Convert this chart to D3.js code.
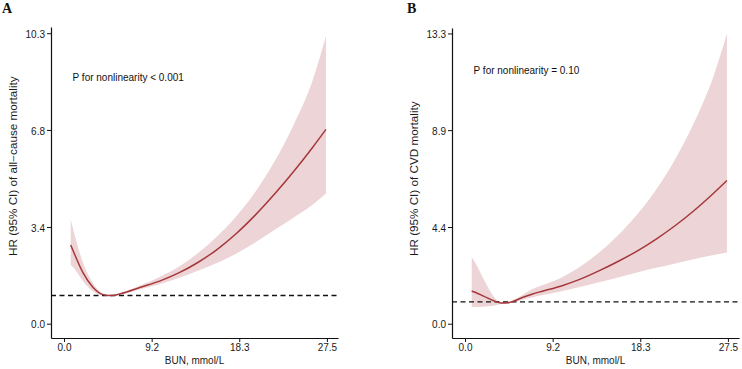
<!DOCTYPE html>
<html>
<head>
<meta charset="utf-8">
<script src="https://cdn.jsdelivr.net/npm/d3@7"></script>
<style>
  html, body { margin: 0; padding: 0; background: #fff; }
  svg { display: block; font-family: "Liberation Sans", Arial, sans-serif; }
</style>
</head>
<body>
<svg id="chart" width="742" height="369"></svg>
<script>
// ---- data ----
const bunA   = [0.7, 1, 2, 3, 4, 4.7, 5, 6, 8, 10, 12, 14, 16, 18, 20, 22, 24, 26, 27.4];
const hrA    = [2.79, 2.55, 1.80, 1.30, 1.04, 1.00, 1.00, 1.07, 1.29, 1.51, 1.80, 2.17, 2.63, 3.19, 3.85, 4.59, 5.39, 6.25, 6.89];
const upperA = [3.70, 3.30, 2.15, 1.45, 1.08, 1.01, 1.01, 1.10, 1.36, 1.66, 2.02, 2.50, 3.09, 3.80, 4.67, 5.74, 7.04, 8.62, 10.20];
const lowerA = [2.08, 1.98, 1.50, 1.16, 1.00, 0.99, 0.99, 1.04, 1.22, 1.40, 1.62, 1.88, 2.15, 2.48, 2.88, 3.32, 3.76, 4.22, 4.62];

const bunB   = [0.7, 1, 2, 3, 3.8, 4.5, 5, 6, 7, 8, 10, 12, 14, 16, 18, 20, 22, 24, 26, 27.4];
const hrB    = [1.50, 1.45, 1.25, 1.05, 0.95, 0.96, 1.02, 1.20, 1.35, 1.48, 1.72, 2.03, 2.42, 2.85, 3.33, 3.88, 4.50, 5.20, 5.98, 6.56];
const upperB = [3.05, 2.85, 2.00, 1.25, 0.98, 0.98, 1.06, 1.32, 1.58, 1.75, 2.10, 2.60, 3.25, 4.05, 5.00, 6.15, 7.55, 9.25, 11.35, 13.30];
const lowerB = [0.75, 0.76, 0.78, 0.82, 0.90, 0.93, 0.97, 1.10, 1.20, 1.30, 1.48, 1.68, 1.90, 2.12, 2.35, 2.56, 2.76, 2.96, 3.15, 3.26];

const xTicks = [0, 9.17, 18.33, 27.5];
const xTickLabels = ["0.0", "9.2", "18.3", "27.5"];
const yTicksA = [0, 3.43, 6.87, 10.3];
const yTickLabelsA = ["0.0", "3.4", "6.8", "10.3"];
const yTicksB = [0, 4.43, 8.87, 13.3];
const yTickLabelsB = ["0.0", "4.4", "8.9", "13.3"];

const refHR = 1;

const STRETCH = 1.17; // the source picture is a bit taller than wide

const svg = d3.select("#chart");

function drawPanel(opt) {
  const g = svg.append("g").attr("transform", `translate(${opt.dx},0)`);

  const x = d3.scaleLinear().domain([-1.36, 28.66]).range([51, 338]);
  const y = d3.scaleLinear().domain(opt.yDomain).range([338, opt.yTop]);

  const rows = opt.bun.map((b, i) => ({ bun: b, hr: opt.hr[i], lo: opt.lower[i], hi: opt.upper[i] }));

  // confidence band
  g.append("path")
    .datum(rows)
    .attr("fill", "#edd5d7")
    .attr("d", d3.area()
      .curve(d3.curveMonotoneX)
      .x(d => x(d.bun))
      .y0(d => y(d.lo))
      .y1(d => y(d.hi)));

  // reference line HR = 1
  g.append("line")
    .attr("x1", x.range()[0]).attr("x2", x.range()[1])
    .attr("y1", y(refHR)).attr("y2", y(refHR))
    .attr("stroke", "#111")
    .attr("stroke-width", 1.3)
    .attr("stroke-dasharray", "5,3.5");

  // fitted curve
  g.append("path")
    .datum(rows)
    .attr("fill", "none")
    .attr("stroke", "#a5373a")
    .attr("stroke-width", 1.5)
    .attr("d", d3.line()
      .curve(d3.curveMonotoneX)
      .x(d => x(d.bun))
      .y(d => y(d.hr)));

  // axes
  const ax = g.append("g")
    .attr("transform", "translate(0,338)")
    .call(d3.axisBottom(x).tickValues(xTicks).tickFormat((d, i) => xTickLabels[i])
      .tickSize(4).tickSizeOuter(0));
  ax.selectAll("text")
    .attr("y", 11.5).attr("dy", 0)
    .attr("transform", `scale(1,${STRETCH})`);

  const ay = g.append("g")
    .attr("transform", "translate(51,0)")
    .call(d3.axisLeft(y).tickValues(opt.yTicks).tickFormat((d, i) => opt.yTickLabels[i])
      .tickSize(4).tickPadding(2).tickSizeOuter(0));
  ay.selectAll("text")
    .attr("dy", "0.36em")
    .attr("transform", `scale(1,${STRETCH})`);

  [ax, ay].forEach(a => {
    a.select(".domain").attr("stroke", "#111").attr("stroke-width", 1.2);
    a.selectAll(".tick line").attr("stroke", "#111").attr("stroke-width", 1);
    a.selectAll(".tick text").attr("fill", "#1a1a1a").style("font-size", "10px")
      .style("font-family", "'Liberation Sans', Arial, sans-serif");
  });

  // axis titles
  g.append("text")
    .attr("transform", `translate(194.5,364) scale(1,${STRETCH})`)
    .attr("text-anchor", "middle")
    .style("font-size", "10px")
    .attr("fill", "#1a1a1a")
    .text("BUN, mmol/L");

  g.append("text")
    .attr("transform", `translate(16.6,256) scale(1,${STRETCH}) rotate(-90)`)
    .attr("text-anchor", "start")
    .style("font-size", "10px")
    .attr("fill", "#1a1a1a")
    .text(opt.yTitle);

  // annotation
  g.append("text")
    .attr("transform", `translate(${x(opt.pX)},${y(opt.pY)}) scale(1,${STRETCH})`)
    .style("font-size", "10px")
    .attr("fill", "#111")
    .text(opt.pText);

  // panel letter
  g.append("text")
    .attr("x", opt.letterX).attr("y", 13)
    .style("font-family", "'Liberation Serif', 'Times New Roman', serif")
    .style("font-weight", "bold")
    .style("font-size", "14px")
    .attr("fill", "#111")
    .text(opt.letter);
}

drawPanel({
  dx: 0, letter: "A", letterX: 2,
  bun: bunA, hr: hrA, upper: upperA, lower: lowerA,
  yDomain: [-0.507, 10.52], yTop: 27,
  yTicks: yTicksA, yTickLabels: yTickLabelsA,
  yTitle: "HR (95% CI) of all\u2212cause mortality",
  pText: "P for nonlinearity < 0.001", pX: 0.9, pY: 8.6
});

drawPanel({
  dx: 401, letter: "B", letterX: 6,
  bun: bunB, hr: hrB, upper: upperB, lower: lowerB,
  yDomain: [-0.655, 13.55], yTop: 28,
  yTicks: yTicksB, yTickLabels: yTickLabelsB,
  yTitle: "HR (95% CI) of CVD mortality",
  pText: "P for nonlinearity = 0.10", pX: 0.9, pY: 11.45
});
</script>
</body>
</html>
